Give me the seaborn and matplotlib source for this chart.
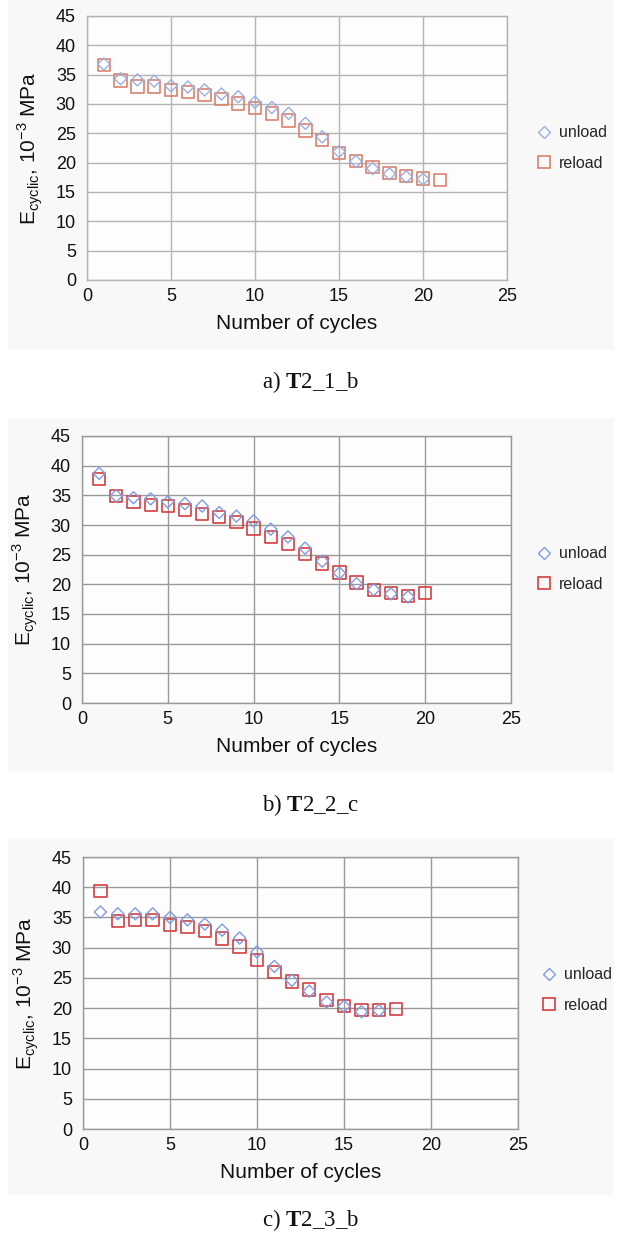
import numpy as np
import pandas as pd
import matplotlib
matplotlib.use("Agg")
import matplotlib.pyplot as plt
from matplotlib.patches import Rectangle
from matplotlib.lines import Line2D
import seaborn as sns

# ---------------- data ----------------
cycles_a_unload = list(range(1, 21))
unload_a = [36.8, 34.3, 34.1, 33.9, 33.1, 32.9, 32.4, 31.7, 31.25, 30.3,
            29.4, 28.4, 26.7, 24.4, 21.9, 20.2, 19.0, 18.1, 17.6, 17.2]
cycles_a_reload = list(range(1, 22))
reload_a = [36.6, 34.0, 33.0, 33.0, 32.4, 32.0, 31.5, 30.8, 30.1, 29.3,
            28.4, 27.2, 25.5, 23.9, 21.7, 20.3, 19.3, 18.2, 17.7, 17.3, 17.0]

cycles_b_unload = list(range(1, 20))
unload_b = [38.7, 34.9, 34.6, 34.4, 33.9, 33.6, 33.2, 32.1, 31.5, 30.7,
            29.3, 28.0, 26.1, 23.9, 21.9, 20.1, 19.1, 18.4, 17.9]
cycles_b_reload = list(range(1, 21))
reload_b = [37.7, 34.9, 33.9, 33.4, 33.2, 32.5, 31.9, 31.4, 30.5, 29.4,
            28.0, 26.8, 25.1, 23.5, 22.0, 20.3, 19.1, 18.5, 18.0, 18.6]

cycles_c_unload = list(range(1, 18))
unload_c = [35.9, 35.6, 35.6, 35.6, 35.0, 34.6, 33.9, 32.9, 31.6, 29.3,
            26.9, 24.6, 22.8, 21.0, 20.3, 19.4, 19.6]
cycles_c_reload = list(range(1, 19))
reload_c = [39.4, 34.4, 34.6, 34.6, 33.8, 33.4, 32.7, 31.5, 30.2, 27.9,
            26.0, 24.4, 23.1, 21.3, 20.4, 19.7, 19.7, 19.9]

x_ticks = [0, 5, 10, 15, 20, 25]
y_ticks = [0, 5, 10, 15, 20, 25, 30, 35, 40, 45]
series_labels = ["unload", "reload"]
captions = ["a)", "b)", "c)"]
caption_ids = ["2_1_b", "2_2_c", "2_3_b"]

# ---------------- style ----------------
sns.set_style("white")
plt.rcParams["font.family"] = ["Liberation Sans", "DejaVu Sans"]
plt.rcParams["mathtext.fontset"] = "custom"
plt.rcParams["mathtext.bf"] = "Liberation Serif:bold"
plt.rcParams["mathtext.rm"] = "Liberation Serif"

W, H = 622, 1234
fig = plt.figure(figsize=(W / 100, H / 100), dpi=100)
fig.patch.set_facecolor("white")

def fx(px):
    return px / W

def fy(py):
    return 1 - py / H

# panel pixel boxes: left, right, top, bottom
boxes = [(87, 507, 16, 280), (82, 511, 436, 703), (83, 518, 857, 1129)]
bg_boxes = [(8, 614, 0, 350), (8, 614, 418, 772), (8, 614, 838, 1195)]
legend_pos = [(538, 148), (538, 569), (543, 990)]
caption_y = [382, 805, 1220]
colors = [("#9AAFE3", "#D9826C"), ("#7F9CE3", "#D43F3F"), ("#7F9CE3", "#D43F3F")]
grid_col = ["#B4B4B4", "#9A9A9A", "#9A9A9A"]

data = [
    (cycles_a_unload, unload_a, cycles_a_reload, reload_a),
    (cycles_b_unload, unload_b, cycles_b_reload, reload_b),
    (cycles_c_unload, unload_c, cycles_c_reload, reload_c),
]

for i in range(3):
    bl, br, bt, bb = bg_boxes[i]
    fig.patches.append(Rectangle((fx(bl), fy(bb)), fx(br) - fx(bl), fy(bt) - fy(bb),
                                 transform=fig.transFigure, facecolor="#F8F8F8",
                                 edgecolor="none", zorder=-10))

    l, r, t, b = boxes[i]
    ax = fig.add_axes([fx(l), fy(b), fx(r) - fx(l), fy(t) - fy(b)])
    ax.set_facecolor("#FDFDFD")
    cu, cr = colors[i]
    xu, yu, xr, yr = data[i]

    df_r = pd.DataFrame({"cycle": xr, "E": yr})
    df_u = pd.DataFrame({"cycle": xu, "E": yu})
    sns.scatterplot(data=df_r, x="cycle", y="E", marker="s", s=78,
                    facecolor="none", edgecolor=cr, linewidth=1.2, ax=ax, zorder=3)
    sns.scatterplot(data=df_u, x="cycle", y="E", marker="D", s=38,
                    facecolor="none", edgecolor=cu, linewidth=1.0, ax=ax, zorder=4)

    ax.set_xlim(0, 25)
    ax.set_ylim(0, 45)
    ax.set_xticks(x_ticks)
    ax.set_yticks(y_ticks)
    ax.grid(True, color=grid_col[i], linewidth=1.0)
    ax.set_axisbelow(True)
    for s in ax.spines.values():
        s.set_color(grid_col[i])
        s.set_linewidth(1.0)
    ax.tick_params(axis="both", length=0, labelsize=13, colors="#111111")
    ax.tick_params(axis="y", pad=8)
    ax.tick_params(axis="x", pad=6)
    ax.set_xlabel("Number of cycles", fontsize=15, labelpad=6, color="#111111")
    ax.set_ylabel(r"E$_{\mathregular{cyclic}}$, 10$^{\mathregular{-3}}$ MPa",
                  fontsize=15, color="#111111", labelpad=8)

    handles = [
        Line2D([], [], linestyle="none", marker="D", markersize=6,
               markerfacecolor="none", markeredgecolor=cu, markeredgewidth=1.0),
        Line2D([], [], linestyle="none", marker="s", markersize=8.5,
               markerfacecolor="none", markeredgecolor=cr, markeredgewidth=1.2),
    ]
    lx, ly = legend_pos[i]
    fig.legend(handles, series_labels, loc="center left",
               bbox_to_anchor=(fx(lx), fy(ly)), frameon=False, fontsize=11.5,
               handlelength=0.8, handletextpad=0.5, labelspacing=0.95,
               borderpad=0, borderaxespad=0)

    fig.text(0.5, fy(caption_y[i]),
             captions[i] + r" $\mathbf{T}$" + caption_ids[i],
             family=["Liberation Serif"], fontsize=16.5,
             ha="center", va="center", color="#111111")

fig.savefig("out.png", dpi=100)
